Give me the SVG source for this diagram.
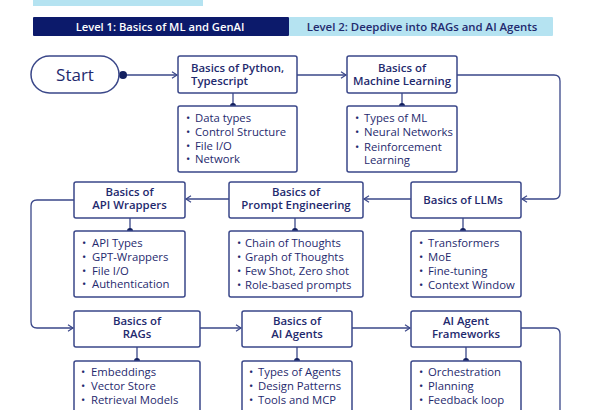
<svg xmlns="http://www.w3.org/2000/svg" width="590" height="410" viewBox="0 0 590 410">
<style>
.box{fill:#fff;stroke:#3a4789;stroke-width:1.5}
.ln{fill:none;stroke:#3a4789;stroke-width:1.3}
.t{font-family:"Open Sans","Liberation Sans",sans-serif;font-weight:600;font-size:11.4px;fill:#1f2a6e}
.i{font-family:"Open Sans","Liberation Sans",sans-serif;font-weight:500;font-size:11.3px;fill:#1f2a6e}
.dot{fill:#13205f}
</style>
<defs>
<marker id="ah" markerWidth="8" markerHeight="8" refX="6" refY="4" orient="auto" markerUnits="userSpaceOnUse">
<path d="M1,0.8 L6,4 L1,7.2" fill="none" stroke="#3a4789" stroke-width="1.2"/>
</marker>
</defs>
<rect width="590" height="410" fill="#fff"/>
<g id="header">
<rect x="33" y="0" width="170" height="6" fill="#b5e3f1"/>
<rect x="33" y="17" width="256" height="19" rx="1" fill="#0c1a6b"/>
<rect x="289" y="17" width="264" height="19" rx="1" fill="#b5e3f1"/>
<text x="160" y="30.5" text-anchor="middle" class="t" style="fill:#fff;font-size:11.2px">Level 1: Basics of ML and GenAI</text>
<text x="422" y="30.5" text-anchor="middle" class="t" style="font-size:11.4px">Level 2: Deepdive into RAGs and AI Agents</text>
</g>
<g id="connectors">
<line class="ln" x1="123" y1="75" x2="177" y2="75" marker-end="url(#ah)"/>
<circle class="dot" cx="123" cy="75" r="4"/>
<line class="ln" x1="297" y1="75" x2="346" y2="75" marker-end="url(#ah)"/>
<path class="ln" d="M457,75 H554 Q560,75 560,81 V193 Q560,199 554,199 H522" marker-end="url(#ah)"/>
<line class="ln" x1="411" y1="199" x2="364" y2="199" marker-end="url(#ah)"/>
<line class="ln" x1="229" y1="199" x2="186" y2="199" marker-end="url(#ah)"/>
<path class="ln" d="M74,200 H37 Q31,200 31,206 V322 Q31,328 37,328 H73" marker-end="url(#ah)"/>
<line class="ln" x1="200" y1="328" x2="241" y2="328" marker-end="url(#ah)"/>
<line class="ln" x1="352" y1="328" x2="410" y2="328" marker-end="url(#ah)"/>
<path class="ln" d="M521,328 H554 Q560,328 560,334 V410"/>
<line class="ln" x1="233" y1="93" x2="233" y2="106"/><path class="dot" d="M230,106 A3,3 0 0 1 236,106 Z"/>
<line class="ln" x1="402" y1="93" x2="402" y2="106"/><path class="dot" d="M399,106 A3,3 0 0 1 405,106 Z"/>
<line class="ln" x1="130" y1="218" x2="130" y2="231"/><path class="dot" d="M127,231 A3,3 0 0 1 133,231 Z"/>
<line class="ln" x1="295" y1="218" x2="295" y2="231"/><path class="dot" d="M292,231 A3,3 0 0 1 298,231 Z"/>
<line class="ln" x1="463" y1="218" x2="463" y2="231"/><path class="dot" d="M460,231 A3,3 0 0 1 466,231 Z"/>
<line class="ln" x1="137" y1="347" x2="137" y2="361"/><path class="dot" d="M134,361 A3,3 0 0 1 140,361 Z"/>
<line class="ln" x1="297" y1="347" x2="297" y2="361"/><path class="dot" d="M294,361 A3,3 0 0 1 300,361 Z"/>
<line class="ln" x1="466" y1="347" x2="466" y2="361"/><path class="dot" d="M463,361 A3,3 0 0 1 469,361 Z"/>
</g>
<g id="start">
<rect class="box" x="31" y="56" width="88" height="37" rx="18.5"/>
<text x="75" y="81" text-anchor="middle" class="i" style="font-size:17px">Start</text>
</g>
<g id="python">
<rect class="box" x="178" y="56" width="119" height="37" rx="2"/>
<text class="t" x="191" y="72">Basics of Python,</text>
<text class="t" x="191" y="85">Typescript</text>
</g>
<g id="python-items">
<rect class="box" x="178" y="106" width="119" height="66" rx="2"/>
<text class="i" x="186" y="122">•</text><text class="i" x="195" y="122">Data types</text>
<text class="i" x="186" y="136">•</text><text class="i" x="195" y="136">Control Structure</text>
<text class="i" x="186" y="150">•</text><text class="i" x="195" y="150">File I/O</text>
<text class="i" x="186" y="163">•</text><text class="i" x="195" y="163">Network</text>
</g>
<g id="ml">
<rect class="box" x="347" y="56" width="110" height="37" rx="2"/>
<text class="t" x="402" y="72" text-anchor="middle">Basics of</text>
<text class="t" x="402" y="85" text-anchor="middle">Machine Learning</text>
</g>
<g id="ml-items">
<rect class="box" x="347" y="106" width="110" height="66" rx="2"/>
<text class="i" x="355" y="122">•</text><text class="i" x="364" y="122">Types of ML</text>
<text class="i" x="355" y="136">•</text><text class="i" x="364" y="136">Neural Networks</text>
<text class="i" x="355" y="151">•</text><text class="i" x="364" y="151">Reinforcement</text>
<text class="i" x="364" y="164">Learning</text>
</g>
<g id="llms">
<rect class="box" x="411" y="182" width="110" height="36" rx="2"/>
<text class="t" x="463" y="204" text-anchor="middle">Basics of LLMs</text>
</g>
<g id="llms-items">
<rect class="box" x="411" y="231" width="110" height="66" rx="2"/>
<text class="i" x="419" y="247">•</text><text class="i" x="428" y="247">Transformers</text>
<text class="i" x="419" y="261">•</text><text class="i" x="428" y="261">MoE</text>
<text class="i" x="419" y="275">•</text><text class="i" x="428" y="275">Fine-tuning</text>
<text class="i" x="419" y="289">•</text><text class="i" x="428" y="289">Context Window</text>
</g>
<g id="prompt">
<rect class="box" x="229" y="182" width="134" height="36" rx="2"/>
<text class="t" x="296" y="196" text-anchor="middle">Basics of</text>
<text class="t" x="296" y="209" text-anchor="middle">Prompt Engineering</text>
</g>
<g id="prompt-items">
<rect class="box" x="229" y="231" width="134" height="66" rx="2"/>
<text class="i" x="237" y="247">•</text><text class="i" x="245" y="247">Chain of Thoughts</text>
<text class="i" x="237" y="261">•</text><text class="i" x="245" y="261">Graph of Thoughts</text>
<text class="i" x="237" y="275">•</text><text class="i" x="245" y="275">Few Shot, Zero shot</text>
<text class="i" x="237" y="289">•</text><text class="i" x="245" y="289">Role-based prompts</text>
</g>
<g id="api">
<rect class="box" x="74" y="182" width="111" height="36" rx="2"/>
<text class="t" x="129.5" y="196" text-anchor="middle">Basics of</text>
<text class="t" x="129.5" y="209" text-anchor="middle">API Wrappers</text>
</g>
<g id="api-items">
<rect class="box" x="74" y="231" width="111" height="66" rx="2"/>
<text class="i" x="82" y="247">•</text><text class="i" x="92" y="247">API Types</text>
<text class="i" x="82" y="261">•</text><text class="i" x="92" y="261">GPT-Wrappers</text>
<text class="i" x="82" y="275">•</text><text class="i" x="92" y="275">File I/O</text>
<text class="i" x="82" y="288">•</text><text class="i" x="92" y="288">Authentication</text>
</g>
<g id="rags">
<rect class="box" x="74" y="311" width="126" height="36" rx="2"/>
<text class="t" x="137" y="325" text-anchor="middle">Basics of</text>
<text class="t" x="137" y="338" text-anchor="middle">RAGs</text>
</g>
<g id="rags-items">
<rect class="box" x="74" y="361" width="126" height="60" rx="2"/>
<text class="i" x="81" y="376">•</text><text class="i" x="91" y="376">Embeddings</text>
<text class="i" x="81" y="390">•</text><text class="i" x="91" y="390">Vector Store</text>
<text class="i" x="81" y="404">•</text><text class="i" x="91" y="404">Retrieval Models</text>
<text class="i" x="81" y="418">•</text><text class="i" x="91" y="418">Generation Models</text>
</g>
<g id="agents">
<rect class="box" x="242" y="311" width="110" height="36" rx="2"/>
<text class="t" x="297" y="325" text-anchor="middle">Basics of</text>
<text class="t" x="297" y="338" text-anchor="middle">AI Agents</text>
</g>
<g id="agents-items">
<rect class="box" x="242" y="361" width="110" height="60" rx="2"/>
<text class="i" x="249" y="376">•</text><text class="i" x="258" y="376">Types of Agents</text>
<text class="i" x="249" y="390">•</text><text class="i" x="258" y="390">Design Patterns</text>
<text class="i" x="249" y="404">•</text><text class="i" x="258" y="404">Tools and MCP</text>
<text class="i" x="249" y="418">•</text><text class="i" x="258" y="418">Agent Memory</text>
</g>
<g id="frameworks">
<rect class="box" x="411" y="311" width="110" height="36" rx="2"/>
<text class="t" x="466" y="325" text-anchor="middle">AI Agent</text>
<text class="t" x="466" y="338" text-anchor="middle">Frameworks</text>
</g>
<g id="frameworks-items">
<rect class="box" x="411" y="361" width="110" height="60" rx="2"/>
<text class="i" x="419" y="376">•</text><text class="i" x="428" y="376">Orchestration</text>
<text class="i" x="419" y="390">•</text><text class="i" x="428" y="390">Planning</text>
<text class="i" x="419" y="404">•</text><text class="i" x="428" y="404">Feedback loop</text>
<text class="i" x="419" y="418">•</text><text class="i" x="428" y="418">Observability</text>
</g>
</svg>
